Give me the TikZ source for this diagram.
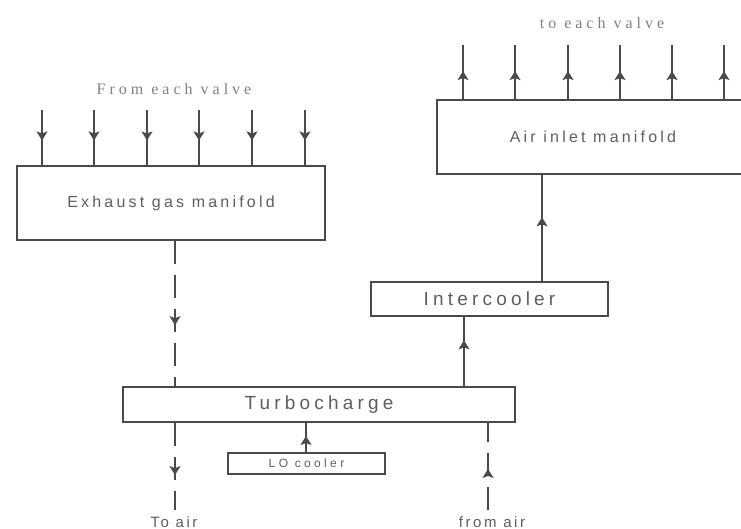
\documentclass[tikz,border=0pt]{standalone}
\usepackage{fontspec}
\setmainfont{Liberation Serif}
\newfontfamily\boxfont{Liberation Sans}
\usetikzlibrary{arrows.meta,decorations.markings}
\definecolor{lin}{HTML}{4A4A4A}
\definecolor{txt}{HTML}{5E5E5E}
\definecolor{stxt}{HTML}{808080}
\begin{document}
\begin{tikzpicture}[x=1pt,y=-1pt,
  box/.style={draw=lin,line width=1.3pt,rectangle,inner sep=0pt,text=txt},
  bigbox/.style={box,font=\boxfont\fontsize{19}{19}\selectfont\addfontfeature{LetterSpace=22}},
  manbox/.style={box,font=\boxfont\fontsize{16}{16}\selectfont\addfontfeature{LetterSpace=20}},
  lobox/.style={box,font=\boxfont\fontsize{12}{12}\selectfont\addfontfeature{LetterSpace=28}},
  conn/.style={draw=lin,line width=1.3pt},
  dconn/.style={conn,dash pattern=on 23pt off 11pt},
  midarrow/.style={postaction={decorate},decoration={markings,
     mark=at position #1 with {\arrow{Stealth[length=9pt,width=11pt,inset=2pt]}}}},
  vlabel/.style={text=stxt,font=\fontsize{16}{16}\selectfont\addfontfeature{LetterSpace=25}},
  alabel/.style={text=txt,font=\boxfont\fontsize{15}{15}\selectfont\addfontfeature{LetterSpace=17}}
]
\useasboundingbox (0,0) rectangle (741,529);
\clip (0,0) rectangle (741,529);

% boxes
\node[manbox,minimum width=308pt,minimum height=74pt] (exh) at (171,203) {Exhaust gas manifold};
\node[manbox,minimum width=312pt,minimum height=74pt] (air) at (593,137) {Air inlet manifold};
\node[bigbox,minimum width=237pt,minimum height=34pt] (ic) at (489.5,299) {Intercooler};
\node[bigbox,minimum width=392pt,minimum height=35pt] (tc) at (319,404.5) {Turbocharge};
\node[lobox,minimum width=157pt,minimum height=21pt] (lo) at (306.5,463.5) {LO cooler};

% labels
\node[vlabel] (fev) at (174,89) {From each valve};
\node[vlabel] (tev) at (602,23) {to each valve};
\node[alabel] (toair) at (174,522) {To air};
\node[alabel] (fromair) at (492,522) {from air};

% valve connectors (exhaust)
\foreach \i/\xx in {1/42,2/94,3/147,4/199,5/252,6/305}{
  \coordinate (ev\i) at (\xx,110);
  \path[conn,midarrow=0.55] (ev\i) -- (ev\i |- exh.north);
}
% valve connectors (air inlet)
\foreach \i/\xx in {1/463,2/515,3/568,4/620,5/672,6/724}{
  \coordinate (av\i) at (\xx,45);
  \path[conn,midarrow=0.52] (av\i |- air.north) -- (av\i);
}

% air inlet <- intercooler
\coordinate (icup) at (542,0);
\path[conn,midarrow=0.6] (icup |- ic.north) -- (icup |- air.south);
% intercooler <- turbocharger
\coordinate (tcup) at (464,0);
\path[conn,midarrow=0.66] (tcup |- tc.north) -- (tcup |- ic.south);
% exhaust -> turbo (dashed)
\coordinate (exd) at (175,0);
\path[dconn,midarrow=0.58] (exd |- exh.south) -- (exd |- tc.north);
% turbo -> to air (dashed)
\coordinate (toairend) at (175,510);
\path[dconn,midarrow=0.6] (toairend |- tc.south) -- (toairend);
% LO cooler -> turbo
\coordinate (lox) at (306,0);
\path[conn,midarrow=0.55] (lox |- lo.north) -- (lox |- tc.south);
% from air -> turbo (dashed)
\coordinate (fromairend) at (488,510);
\path[dconn,midarrow=0.47] (fromairend) -- (fromairend |- tc.south);
\end{tikzpicture}
\end{document}
